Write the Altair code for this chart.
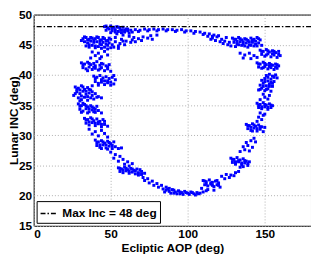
import altair as alt
import pandas as pd

# ---- data (Ecliptic AOP [deg], Lunar INC [deg]) ----
top_left = [(46,48.0),(48,47.8),(50,48.1),(52,47.9),(54,48.0),(56,47.7),(58,47.9),(60,47.6),
            (47,47.4),(49,47.6),(51,47.3),(53,47.5),(55,47.2),(57,47.4),(59,47.1),(61,47.3),
            (50,47.0),(54,46.8),(58,46.6),(62,46.9),
            (47,48.1),(51,47.7),(55,47.9),(59,47.4),(53,47.1),(57,47.0),(61,47.6)]
top_arc = [(63,47.4),(66,47.5),(69,47.4),(72,47.6),(75,47.5),(78,47.6),(81,47.5),(84,47.6),
           (87,47.5),(90,47.5),(93,47.4),(96,47.5),(99,47.3),(102,47.3),(105,47.2),(108,47.1),
           (111,46.9),(114,46.8),(117,46.6),(120,46.5),
           (64,47.1),(68,47.2),(74,47.3),(80,47.3),(86,47.3),(92,47.2),(98,47.1),(104,46.9),
           (110,46.7),(116,46.4)]
arc_low = [(62,46.4),(65,46.2),(68,46.0),(71,46.3),(74,46.1),(77,45.9),(64,45.8),(70,45.7),
           (76,46.5),(80,46.6),(53,46.2),(57,45.9),(60,45.6),(63,45.4),(66,45.5),(59,45.0),(55,44.4)]
left_45 = [(32,46.0),(34,46.2),(36,45.9),(38,46.1),(40,46.0),(42,46.2),(44,45.8),(46,46.0),(48,45.7),(50,45.9),
           (33,45.5),(35,45.3),(37,45.6),(39,45.4),(41,45.5),(43,45.2),(45,45.4),(47,45.1),(49,45.3),(51,45.0),
           (34,44.8),(36,44.6),(38,44.9),(40,44.5),(42,44.7),(44,44.4),(46,44.6),(48,44.3),(52,44.6),(55,44.8),
           (31,45.7),(53,45.5),(56,45.2),(58,45.6),
           (33,46.3),(35,45.8),(37,46.2),(39,45.8),(41,46.3),(43,45.7),(45,46.2),(47,45.6),(49,46.1),
           (36,45.0),(40,44.8),(44,45.0),(48,44.9),(50,44.5)]
left_43 = [(38,43.8),(42,43.6),(46,43.9),(40,43.2),(44,43.0),(48,43.3),(37,42.8),(43,42.7)]
left_41 = [(31,42.0),(33,41.8),(35,42.1),(37,41.7),(39,41.9),(41,42.2),(43,41.6),(45,41.8),(47,41.5),(49,41.7),
           (32,41.2),(34,41.0),(36,41.3),(38,40.9),(40,41.1),(42,40.8),(44,41.2),(46,40.7),(48,41.0),(50,40.6),
           (32,41.6),(36,41.9),(40,41.5),(44,41.9),(48,41.3),(35,40.7),(39,41.3),(43,41.0)]
left_39 = [(39,39.8),(41,39.6),(43,39.9),(45,39.5),(47,39.7),(49,39.4),(51,39.6),(53,39.2),
           (40,38.9),(42,38.6),(44,38.8),(46,38.4),(48,38.7),(50,38.3),(52,38.5),(38,38.2),
           (40,39.4),(44,39.2),(48,39.0),(52,39.9),(42,38.3),(46,39.0),(50,38.8)]
left_37 = [(27,38.0),(29,37.8),(31,38.2),(33,37.6),(35,37.9),(37,37.5),(28,37.2),(30,36.9),(32,37.3),
           (34,36.8),(36,37.0),(38,36.6),(40,36.9),(42,36.4),(26,36.6),(29,36.2),(31,35.9),(33,36.3),
           (35,35.8),(39,36.0),(44,36.2),
           (28,37.6),(30,37.5),(32,38.0),(34,37.3),(36,37.6),(38,37.2),(27,36.9),(31,36.5),(35,36.4),
           (37,36.2),(30,35.7),(41,36.3)]
left_34 = [(29,35.2),(31,34.9),(33,35.1),(35,34.7),(37,34.9),(39,34.5),(41,34.8),(30,34.3),(32,34.0),
           (34,34.4),(36,33.9),(38,34.2),(40,33.8),(42,34.1),(44,33.7),
           (30,34.8),(32,35.3),(34,34.9),(36,34.4),(38,34.7),(40,34.3),(31,33.8),(35,33.7),(39,33.9)]
left_32 = [(33,32.8),(35,32.6),(37,32.9),(39,32.4),(41,32.7),(43,32.3),(45,32.6),(34,32.0),(36,31.7),
           (38,32.1),(40,31.6),(42,31.9),(44,31.4),(46,31.8),(48,31.5),
           (36,31.0),(40,30.6),(44,30.8),(38,30.2),(42,29.9),(46,30.3),(48,29.7),
           (34,32.5),(38,32.7),(42,32.2),(46,32.3),(36,32.2),(40,32.0),(44,31.8)]
left_28 = [(40,29.2),(42,28.9),(44,29.1),(46,28.7),(48,29.0),(50,28.6),(52,28.9),(41,28.3),(43,28.0),
           (45,28.4),(47,27.9),(49,28.2),(51,27.8),(53,28.1),(55,27.8),(57,27.9),
           (50,27.2),(53,26.8),(56,26.5),(52,26.2),(58,26.0),(55,25.7),(61,25.6),(59,25.2),(64,25.3),(62,24.9),
           (41,28.8),(45,28.9),(49,28.8),(43,28.4),(47,28.4),(51,28.3),(44,27.8),(48,27.7)]
low_24 = [(55,24.6),(57,24.4),(59,24.7),(61,24.3),(63,24.5),(65,24.2),(67,24.4),(56,24.0),(58,23.8),
          (60,24.1),(62,23.7),(64,23.9),(66,23.6),(68,23.8),(70,23.5),(72,23.7),(69,24.3),
          (71,23.0),(74,22.8),(72,22.5),(77,22.4),(75,22.1),(80,22.0),(78,21.7),(83,21.7),(81,21.4),
          (86,21.4),(84,21.1),(88,21.2),
          (56,24.5),(60,24.5),(64,24.4),(58,24.2),(62,24.0),(66,24.1),(68,23.4),(70,24.0)]
bottom = [(86,20.9),(88,20.7),(90,21.0),(92,20.6),(94,20.8),(96,20.5),(98,20.7),(100,20.4),(102,20.6),
          (104,20.3),(106,20.5),(108,20.4),(110,20.6),(112,20.8),(89,20.4),(93,20.3),(97,20.2),
          (101,20.2),(105,20.1),
          (87,21.1),(91,20.9),(95,20.6),(99,20.5),(103,20.5),(107,20.3),(91,20.4),(95,20.3),(85,20.6)]
right_22 = [(110,22.5),(112,22.3),(114,22.6),(116,22.2),(118,22.4),(120,22.1),(111,21.8),(113,21.6),
            (115,21.9),(117,21.5),(119,21.8),(121,21.4),(109,21.2),(113,21.0),(117,20.9),
            (122,23.2),(125,23.5),(124,22.8),(128,23.4),(127,23.0),(131,23.8),(130,23.3),(133,24.0),
            (111,22.4),(115,22.1),(119,22.5),(112,21.9),(116,21.7),(120,21.7)]
right_25 = [(128,26.2),(130,26.0),(132,26.3),(134,25.9),(136,26.1),(138,25.7),(129,25.5),(131,25.2),
            (133,25.6),(135,25.1),(137,25.4),(139,25.0),(140,25.6),(134,24.7),
            (134,27.3),(137,27.6),(140,27.4),(136,28.1),(139,28.3),(142,28.0),(138,28.8),(141,29.1),
            (144,28.9),(143,29.5),
            (129,26.0),(133,25.8),(137,25.8),(131,25.6),(135,25.4),(139,25.3),(136,24.8)]
right_31 = [(138,31.8),(140,31.6),(142,31.9),(144,31.5),(146,31.7),(148,31.4),(139,31.1),(141,30.8),
            (143,31.2),(145,30.7),(147,31.0),(149,30.6),(150,31.3),
            (145,32.3),(148,32.6),(146,33.0),(149,33.3),(147,33.7),(150,33.5),
            (139,31.6),(143,31.7),(147,31.4),(141,31.3),(145,31.1),(142,30.7)]
right_35 = [(145,35.3),(147,35.1),(149,35.4),(151,35.0),(153,35.2),(155,34.9),(146,34.6),(148,34.4),
            (150,34.7),(152,34.3),(154,34.6),(147,35.9),(150,36.3),(152,36.0),(149,36.8),(153,36.6),
            (146,35.0),(150,35.1),(154,35.0),(148,34.7),(152,34.6)]
right_39 = [(146,37.5),(148,37.8),(150,37.4),(152,37.7),(154,37.3),(147,38.3),(149,38.6),(151,38.2),
            (153,38.5),(155,38.1),(148,39.1),(150,39.4),(152,39.0),(154,39.3),(156,38.9),(151,39.9),
            (153,40.1),(155,39.8),(157,40.0),(158,39.5),
            (147,37.6),(151,37.6),(149,38.1),(153,38.1),(150,38.9),(154,38.8),(152,39.6),(156,39.6),(155,38.6)]
right_42 = [(145,42.0),(147,41.8),(149,42.1),(151,41.7),(153,41.9),(155,41.6),(157,41.8),(159,41.5),
            (146,41.3),(148,41.1),(150,41.4),(152,41.0),(154,41.2),(156,40.9),(158,41.1),
            (147,44.1),(149,43.9),(151,44.2),(153,43.8),(155,44.0),(157,43.7),(159,43.9),(148,43.4),
            (150,43.1),(152,43.5),(154,43.0),(156,43.3),(158,42.9),(160,43.2),
            (134,43.6),(137,43.3),(140,43.6),(143,43.2),(136,42.8),(141,42.7),(145,42.9),
            (146,41.8),(150,41.9),(154,41.7),(158,41.7),(149,41.2),(153,41.4),(157,41.3),(148,43.9),
            (152,44.0),(156,43.9),(151,43.3),(155,43.5),(159,43.4)]
right_45 = [(129,46.1),(131,45.9),(133,46.2),(135,45.8),(137,46.0),(139,45.7),(141,46.1),(143,45.9),
            (145,46.2),(147,45.8),(130,45.4),(132,45.2),(134,45.5),(136,45.1),(138,45.3),(140,45.0),
            (142,45.4),(144,45.1),(146,45.3),(148,44.9),(128,44.8),(131,44.7),(135,44.9),(139,44.6),
            (143,44.8),(113,46.4),(116,46.1),(119,46.3),(122,45.9),(125,46.2),(118,45.7),(121,45.5),
            (124,45.6),(127,45.4),(115,45.9),(126,45.0),(123,45.2),
            (130,45.9),(134,46.0),(138,45.9),(142,45.8),(146,46.0),(132,45.6),(136,45.5),(140,45.5),
            (144,45.6),(133,45.0),(137,44.8),(141,44.9),(145,44.8)]

max_inc = 48
legend_label = "Max Inc = 48 deg"
x_ticks = [0, 50, 100, 150]
y_ticks = [15, 20, 25, 30, 35, 40, 45, 50]

segments = [top_left, top_arc, arc_low, left_45, left_43, left_41, left_39, left_37, left_34,
            left_32, left_28, low_24, bottom, right_22, right_25, right_31, right_35, right_39,
            right_42, right_45]
pts = [p for seg in segments for p in seg]
df = pd.DataFrame(pts, columns=["aop", "inc"])
df_max = pd.DataFrame({"inc": [max_inc], "label": [legend_label]})

FONT = "Liberation Sans"

xs = alt.Scale(domain=[0, 180], nice=False, zero=False)
ys = alt.Scale(domain=[15, 50], nice=False, zero=False)
y_axis = alt.Axis(title="Lunar INC (deg)", values=y_ticks, titleX=-16,
                  titleBaseline="alphabetic", labelOverlap=False, labelPadding=2,
                  labelSeparation=0)

points = alt.Chart(df).mark_square(size=9, color="#0000ff", opacity=1).encode(
    x=alt.X("aop:Q", scale=xs,
            axis=alt.Axis(title="Ecliptic AOP (deg)", values=x_ticks, titleY=26,
                          titleBaseline="alphabetic", labelOverlap=False)),
    y=alt.Y("inc:Q", scale=ys, axis=y_axis),
)

rule = alt.Chart(df_max).mark_rule(color="black", strokeWidth=1.5).encode(
    y=alt.Y("inc:Q", scale=ys, axis=y_axis),
    strokeDash=alt.StrokeDash(
        "label:N",
        scale=alt.Scale(domain=[legend_label], range=[[5, 2, 1.5, 2]]),
        legend=alt.Legend(title=None, orient="bottom-left", offset=3, padding=3,
                          strokeColor="black", fillColor="white", cornerRadius=0,
                          symbolType="stroke", symbolSize=289, symbolStrokeWidth=1.5,
                          symbolStrokeColor="black", labelFont=FONT, labelFontSize=12,
                          labelFontWeight="bold", labelColor="black", labelOffset=4),
    ),
)

chart = alt.layer(points, rule).properties(
    width=281, height=214,
    autosize=alt.AutoSizeParams(type="none"),
    padding={"left": 26, "top": 5, "right": 0, "bottom": 31},
).configure_view(stroke="black", strokeWidth=1).configure_axis(
    labelFont=FONT, labelFontSize=12, labelFontWeight="bold", labelColor="black",
    titleFont=FONT, titleFontSize=12, titleFontWeight="bold", titleColor="black",
    domain=False, ticks=False, labelPadding=3, labelOverlap=False,
    grid=True, gridColor="#b0b0b0", gridDash=[1, 2], gridWidth=1,
)

chart.save("out.html", embed_options={"renderer": "svg", "actions": False})
